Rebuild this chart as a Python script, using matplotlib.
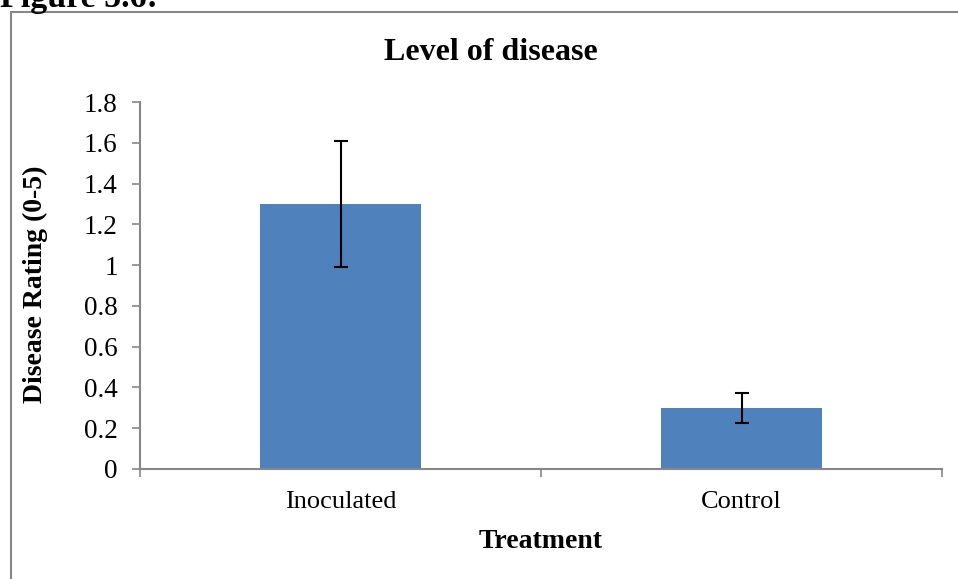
import matplotlib.pyplot as plt
from matplotlib.patches import Rectangle

# data
treatments = ["Inoculated", "Control"]
ratings = [1.3, 0.3]
errors = [0.31, 0.075]
y_ticks = [0, 0.2, 0.4, 0.6, 0.8, 1, 1.2, 1.4, 1.6, 1.8]
y_tick_labels = ["0", "0.2", "0.4", "0.6", "0.8", "1", "1.2", "1.4", "1.6", "1.8"]

plt.rcParams['font.family'] = ['Liberation Serif', 'DejaVu Serif']

W, H = 958, 579
fig = plt.figure(figsize=(W / 100, H / 100), dpi=100)

# outer chart border (gray frame, cut off by the page on right/bottom)
fig.patches.append(Rectangle((11 / W, -0.05), 1.1, (H - 12) / H + 0.05,
                             transform=fig.transFigure, fill=False,
                             edgecolor='#878787', linewidth=1.5))
fig.text(0, 1 - 7 / H, "Figure 5.6:", fontsize=24.5, fontweight='bold',
         ha='left', va='baseline')

ax = fig.add_axes([140 / W, (H - 469) / H, (942 - 140) / W, (469 - 102) / H])

x = range(len(treatments))
ax.bar(x, ratings, width=0.4, color='#4f81bd', zorder=2)
ax.errorbar(x, ratings, yerr=errors, fmt='none', ecolor='black',
            elinewidth=1.5, capsize=5, capthick=1.5, zorder=3)

ax.set_xlim(-0.5, 1.5)
ax.set_ylim(0, 1.8)
ax.set_yticks(y_ticks)
ax.set_yticklabels(y_tick_labels, fontsize=19.5)
ax.set_xticks([-0.5, 0.5, 1.5])
ax.set_xticklabels([])
ax.set_xticks(list(x), minor=True)
ax.set_xticklabels(treatments, minor=True, fontsize=19)
ax.tick_params(axis='x', which='minor', length=0, pad=16)
ax.tick_params(axis='x', which='major', direction='out', length=6,
               color='#878787', width=1.2)
ax.tick_params(axis='y', direction='out', length=6, color='#878787',
               width=1.2, pad=10)

for side in ['top', 'right']:
    ax.spines[side].set_visible(False)
for side in ['left', 'bottom']:
    ax.spines[side].set_color('#878787')
    ax.spines[side].set_linewidth(1.5)

fig.text(491 / W, 1 - 53 / H, "Level of disease", fontsize=23,
         fontweight='bold', ha='center', va='center')
fig.text(541 / W, 1 - 542 / H, "Treatment", fontsize=20,
         fontweight='bold', ha='center', va='center')
fig.text(35 / W, 1 - 284 / H, "Disease Rating (0-5)", fontsize=20,
         fontweight='bold', ha='center', va='center', rotation=90)

fig.savefig("out.png", dpi=100)
